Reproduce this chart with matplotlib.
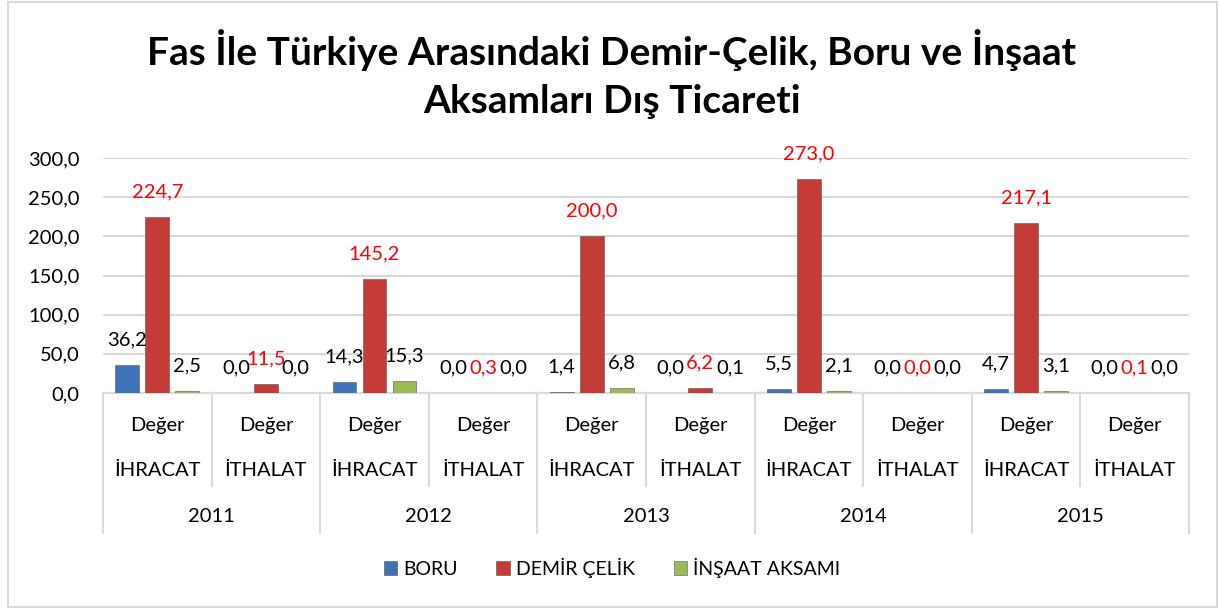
import numpy as np
import matplotlib.pyplot as plt
from matplotlib.patches import Rectangle

plt.rcParams['font.family'] = ['Lato', 'DejaVu Sans']

# Data
years = ["2011", "2012", "2013", "2014", "2015"]
flows = ["İHRACAT", "İTHALAT"]
measure = "Değer"
series = ["BORU", "DEMİR ÇELİK", "İNŞAAT AKSAMI"]
boru = [36.2, 0.0, 14.3, 0.0, 1.4, 0.0, 5.5, 0.0, 4.7, 0.0]
demir_celik = [224.7, 11.5, 145.2, 0.3, 200.0, 6.2, 273.0, 0.0, 217.1, 0.1]
insaat = [2.5, 0.0, 15.3, 0.0, 6.8, 0.1, 2.1, 0.0, 3.1, 0.0]
yticks = [0, 50, 100, 150, 200, 250, 300]

colors = ["#3E73B8", "#C43B37", "#9BBB59"]
label_colors = ["black", "#FF0000", "black"]

W, H = 1219, 608
fig = plt.figure(figsize=(W / 100, H / 100), dpi=100)
ax = fig.add_axes([103 / W, (H - 393) / H, 1086 / W, 235 / H])

x = np.arange(len(boru))
bw = 0.22
off = 0.276
for i, (vals, c, lc) in enumerate(zip([boru, demir_celik, insaat], colors, label_colors)):
    xs = x + (i - 1) * off
    ax.bar(xs, vals, width=bw, color=c, edgecolor="#555555", linewidth=0.4,
           label=series[i], zorder=3)
    for xi, v in zip(xs, vals):
        ax.annotate(f"{v:.1f}".replace(".", ","), (xi, v), xytext=(0, 12),
                    textcoords="offset points", ha="center", va="bottom",
                    fontsize=14.5, color=lc, zorder=4)

ax.set_xlim(-0.5, len(boru) - 0.5)
ax.set_ylim(0, 300)
ax.set_yticks(yticks)
ax.set_yticklabels([f"{t:.1f}".replace(".", ",") for t in yticks], fontsize=14.5)
ax.tick_params(axis="y", length=0, pad=17)
ax.set_xticks([])
ax.grid(axis="y", color="#D9D9D9", linewidth=1.5, zorder=0)
for s in ["top", "right", "left"]:
    ax.spines[s].set_visible(False)
ax.spines["bottom"].set_color("#D9D9D9")
ax.spines["bottom"].set_linewidth(1.5)

# multi-level category axis
tr = ax.get_xaxis_transform()
ph = 235.0
for k in range(len(boru) + 1):
    xb = k - 0.5
    depth = 140 if k % 2 == 0 else 93
    ax.plot([xb, xb], [0, -depth / ph], transform=tr, color="#D9D9D9",
            linewidth=1.5, clip_on=False)
for k in range(len(boru)):
    ax.text(k, -32 / ph, measure, transform=tr, ha="center", va="center", fontsize=14.5)
    ax.text(k, -77 / ph, flows[k % 2], transform=tr, ha="center", va="center", fontsize=14.5)
for j, yr in enumerate(years):
    ax.text(2 * j + 0.5, -124 / ph, yr, transform=tr, ha="center", va="center", fontsize=14.5)

fig.text(0.502, 1 - 50 / H, "Fas İle Türkiye Arasındaki Demir-Çelik, Boru ve İnşaat",
         ha="center", va="center", fontsize=28, fontweight="bold")
fig.text(0.502, 1 - 101 / H, "Aksamları Dış Ticareti",
         ha="center", va="center", fontsize=28, fontweight="bold")

leg = fig.legend(loc="center", bbox_to_anchor=(0.502, 1 - 568 / H), ncol=3,
                 frameon=False, fontsize=14, handlelength=0.7, handleheight=0.7,
                 handletextpad=0.3, columnspacing=2.0)

fig.patches.append(Rectangle((8 / W, 1 / H), 1209 / W, 605 / H, transform=fig.transFigure,
                             fill=False, edgecolor="#D9D9D9", linewidth=1.5))

fig.savefig("out.png", dpi=100)
